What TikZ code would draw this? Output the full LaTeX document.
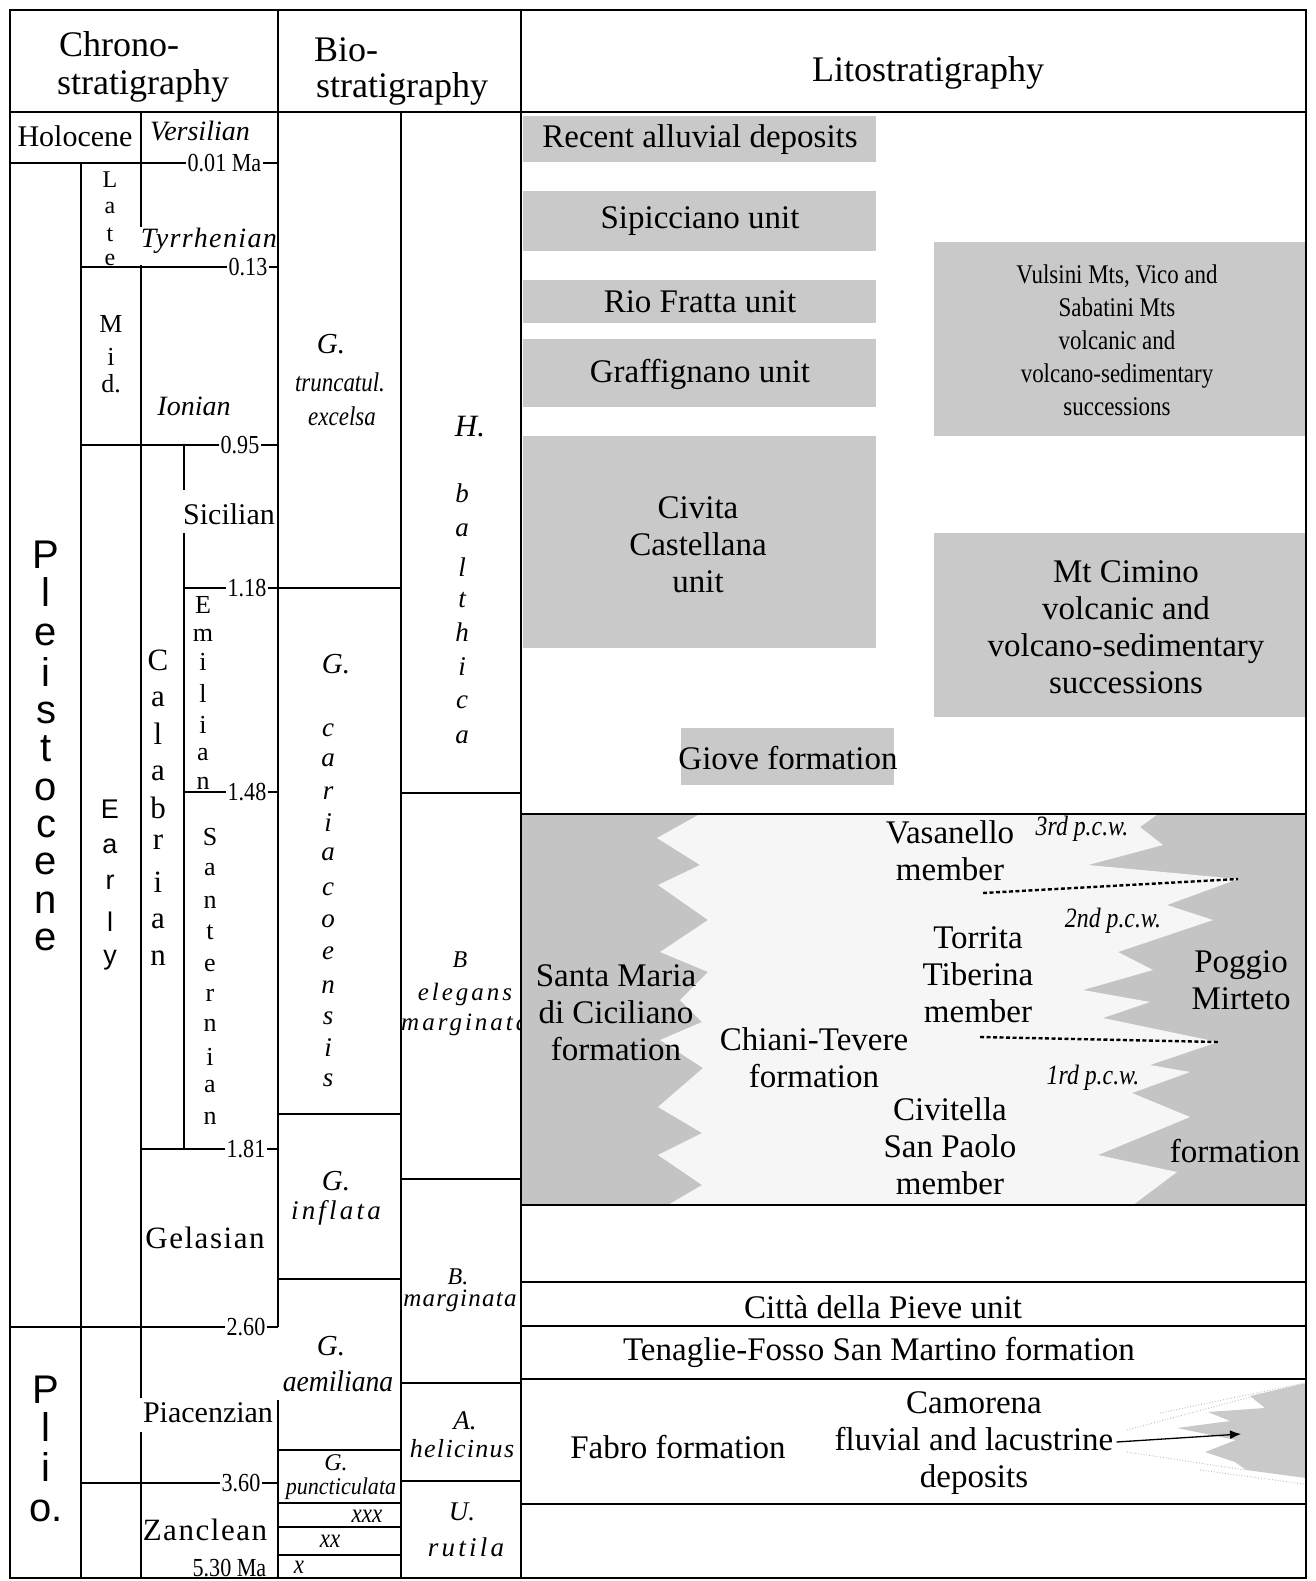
\documentclass[tikz,border=0pt]{standalone}
\usepackage{fontspec}
\setmainfont{Liberation Serif}
\newfontfamily\sansf{Liberation Sans}
\newfontfamily\condf[FakeStretch=0.85]{Liberation Serif}
\newfontfamily\condg[FakeStretch=0.92]{Liberation Serif}
\newfontfamily\spcf[LetterSpace=12]{Liberation Serif}
\newfontfamily\spcu[LetterSpace=5]{Liberation Serif}
\usetikzlibrary{arrows.meta}
\newcommand\FS[2]{\fontsize{#1}{#2}\selectfont}
\definecolor{boxgray}{RGB}{201,201,201}
\definecolor{zonegray}{RGB}{196,196,196}
\definecolor{zonelight}{RGB}{246,246,246}
\begin{document}
\begin{tikzpicture}[x=1pt,y=-1pt,
  ln/.style={line width=1.6pt},
  txt/.style={inner sep=0pt,align=center},
  hdr/.style={inner sep=0pt,anchor=base west,font=\FS{36}{40}},
  agel/.style={fill=white,inner xsep=1.5pt,inner ysep=1pt,anchor=east,font=\condf\FS{26}{26}},
  chr/.style={inner sep=0pt,font=\FS{30}{30}},
  chsp/.style={inner sep=0pt,font=\spcu\FS{31}{31}},
  chit/.style={inner sep=0pt,font=\itshape\FS{28}{28}},
  vlet/.style={inner sep=0pt,font=\FS{26}{26}},
  vcal/.style={inner sep=0pt,font=\FS{31}{31}},
  vsans/.style={inner sep=0pt,font=\sansf\FS{40}{40}},
  vearly/.style={inner sep=0pt,font=\sansf\FS{27}{27}},
  bioG/.style={inner sep=0pt,font=\itshape\FS{29}{29}},
  biol/.style={inner sep=0pt,font=\itshape\FS{27}{27}},
  biosp/.style={inner sep=0pt,font=\spcf\itshape\FS{25}{25}},
  biocd/.style={inner sep=0pt,font=\condf\itshape\FS{27}{27}},
  lit/.style={inner sep=0pt,align=center,font=\FS{33}{37}},
  litc/.style={inner sep=0pt,align=center,font=\condf\FS{27}{33}},
  pcw/.style={inner sep=0pt,font=\condf\itshape\FS{28}{28}}
]
\useasboundingbox (0,0) rectangle (1315,1581);
\fill[white] (0,0) rectangle (1315,1581);

% ---------------- litho grey boxes ----------------
\fill[boxgray] (523,116) rectangle (876,162);
\fill[boxgray] (523,191) rectangle (876,251);
\fill[boxgray] (523,280) rectangle (876,323);
\fill[boxgray] (523,339) rectangle (876,407);
\fill[boxgray] (523,436) rectangle (876,648);
\fill[boxgray] (934,242) rectangle (1305,436);
\fill[boxgray] (934,533) rectangle (1305,717);
\fill[boxgray] (681,728) rectangle (894,785);

% big interfingering zone
\fill[zonegray] (521,814) rectangle (1306,1205);
\fill[zonelight] (700,814) -- (657,838) -- (700,865) -- (658,885) -- (708,920) -- (660,952)
  -- (708,972) -- (680,1000) -- (702,1022) -- (660,1040) -- (703,1068) -- (658,1107)
  -- (702,1133) -- (658,1155) -- (702,1185) -- (668,1205) -- (1133,1205) -- (1177,1172)
  -- (1098,1155) -- (1190,1117) -- (1132,1093) -- (1190,1072) -- (1150,1065) -- (1218,1042)
  -- (1103,1018) -- (1150,1002) -- (1083,990) -- (1153,970) -- (1118,952) -- (1213,920)
  -- (1167,905) -- (1238,879) -- (1088,865) -- (1163,845) -- (1140,827) -- (1158,814) -- cycle;
\draw[line width=2.4pt,dash pattern=on 4pt off 2.5pt] (983,893) -- (1238,879);
\draw[line width=2.4pt,dash pattern=on 4pt off 2.5pt] (980,1037) -- (1218,1042);

% Camorena wedge
\draw[gray!60,line width=0.8pt,dotted] (1127,1430) -- (1250,1397);
\draw[gray!60,line width=0.8pt,dotted] (1160,1413) -- (1304,1383);
\draw[gray!60,line width=0.8pt,dotted] (1127,1452) -- (1245,1470);
\draw[gray!60,line width=0.8pt,dotted] (1200,1470) -- (1304,1484);
\fill[boxgray] (1306,1383) -- (1250,1396) -- (1265,1408) -- (1208,1412) -- (1230,1421) -- (1177,1428)
  -- (1236,1440) -- (1205,1452) -- (1235,1462) -- (1246,1470) -- (1306,1478) -- cycle;

% ---------------- headers ----------------
\node[hdr] (chA) at (59,57) {Chrono-};
\node[hdr] (chB) at (57,95) {stratigraphy};
\node[hdr] (bioA) at (314,62) {Bio-};
\node[hdr] (bioB) at (316,98) {stratigraphy};
\node[txt,font=\FS{36}{40}] (lito) at (928,73) {Litostratigraphy};

% ---------------- chronostratigraphy texts ----------------
\node[chr] (holo) at (75,136) {Holocene};
\node[chit] (vers) at (200,131) {Versilian};
\foreach \l/\yy [count=\k] in {L/180,a/208,t/235,e/260}
  \node[inner sep=0pt,font=\FS{24}{24}] (late\k) at (110,\yy) {\l};
\node[inner sep=0pt,font=\spcu\itshape\FS{28}{28}] (tyrr) at (209,241) {Tyrrhenian};
\foreach \l/\yy [count=\k] in {M/324,i/357,d./384}
  \node[vlet] (mid\k) at (111,\yy) {\l};
\node[chit] (ion) at (194,406) {Ionian};
\node[chr] (sic) at (229,514) {Sicilian};
\foreach \l/\yy [count=\k] in {E/605,m/635,i/662,l/693,i/725,a/755,n/783}
  \node[vlet] (emi\k) at (203,\yy) {\l};
\foreach \l/\yy [count=\k] in {S/837,a/870,n/902,t/932,e/965,r/995,n/1025,i/1057,a/1087,n/1118}
  \node[vlet] (san\k) at (210,\yy) {\l};
\foreach \l/\yy [count=\k] in {C/660,a/699,l/734,a/773,b/808,r/842,i/882,a/921,n/958}
  \node[vcal] (cal\k) at (158,\yy) {\l};
\foreach \l/\yy [count=\k] in {E/809,a/846,r/882,l/922,y/960}
  \node[vearly] (ear\k) at (110,\yy) {\l};
\foreach \l/\yy [count=\k] in {P/555,l/592,e/635,i/672,s/713,t/749,o/790,c/827,e/864,n/903,e/940}
  \node[vsans] (ple\k) at (46,\yy) {\l};
\foreach \l/\yy [count=\k] in {P/1390,l/1427,i/1467,o./1511}
  \node[vsans] (pli\k) at (46,\yy) {\l};
\node[chsp] (gel) at (205,1238) {Gelasian};
\node[chr] (pia) at (208,1413) {Piacenzian};
\node[chsp] (zan) at (205,1530) {Zanclean};

% ---------------- biostratigraphy texts ----------------
\node[bioG] (g1) at (331,344) {G.};
\node[biocd] (g1b) at (340,382) {truncatul.};
\node[biocd] (g1c) at (342,416) {excelsa};
\node[inner sep=0pt,font=\itshape\FS{31}{31}] (hh) at (470,427) {H.};
\foreach \l/\yy [count=\k] in {b/493,a/530,l/567,t/600,h/632,i/667,c/702,a/737}
  \node[biol] (bal\k) at (462,\yy) {\l};
\node[bioG] (g2) at (336,664) {G.};
\foreach \l/\yy [count=\k] in {c/730,a/760,r/793,i/823,a/854,c/889,o/921,e/953,n/987,s/1018,i/1048,s/1080}
  \node[biol] (car\k) at (328,\yy) {\l};
\node[bioG] (g3) at (336,1181) {G.};
\node[inner sep=0pt,font=\spcf\itshape\FS{27}{27}] (g3b) at (336,1213) {inflata};
\node[inner sep=0pt,font=\itshape\FS{24}{24}] (b1) at (460,960) {B};
\node[biosp] (b1b) at (465,994) {elegans};
\begin{scope}
  \clip (401,793) rectangle (521,1179);
  \node[biosp,anchor=west] (b1c) at (401,1025) {marginata};
\end{scope}
\node[inner sep=0pt,font=\itshape\FS{24}{24}] (b2) at (458,1277) {B.};
\node[inner sep=0pt,font=\spcu\itshape\FS{25}{25}] (b2b) at (460,1301) {marginata};
\node[bioG] (g4) at (331,1346) {G.};
\node[inner sep=0pt,font=\condg\itshape\FS{30}{30}] (g4b) at (338,1381) {aemiliana};
\node[inner sep=0pt,font=\itshape\FS{27}{27}] (a1) at (465,1421) {A.};
\node[inner sep=0pt,font=\spcu\itshape\FS{26}{26}] (a1b) at (462,1449) {helicinus};
\node[inner sep=0pt,font=\itshape\FS{24}{24}] (g5) at (336,1463) {G.};
\node[inner sep=0pt,font=\condg\itshape\FS{24}{24}] (g5b) at (341,1489) {puncticulata};
\node[inner sep=0pt,font=\itshape\FS{27}{27}] (u1) at (462,1512) {U.};
\node[inner sep=0pt,font=\spcf\itshape\FS{27}{27}] (u1b) at (466,1547) {rutila};
\node[biocd] (x3) at (367,1516) {xxx};
\node[biocd] (x2) at (330,1541) {xx};
\node[biocd] (x1) at (299,1567) {x};

% ---------------- lithostratigraphy texts ----------------
\node[lit] (rad) at (700,140) {Recent alluvial deposits};
\node[lit] (sip) at (700,221) {Sipicciano unit};
\node[lit] (rio) at (700,302) {Rio Fratta unit};
\node[lit] (gra) at (700,374) {Graffignano unit};
\node[lit] (civ) at (698,545) {Civita\\Castellana\\unit};
\node[litc] (vul) at (1117,340) {Vulsini Mts, Vico and\\Sabatini Mts\\volcanic and\\volcano-sedimentary\\successions};
\node[lit] (cim) at (1126,627) {Mt Cimino\\volcanic and\\volcano-sedimentary\\successions};
\node[lit] (gio) at (788,758) {Giove formation};
\node[lit] (smc) at (616,1013) {Santa Maria\\di Ciciliano\\formation};
\node[lit] (cht) at (814,1058) {Chiani-Tevere\\formation};
\node[lit] (vas) at (950,851) {Vasanello\\member};
\node[pcw] (p3) at (1082,829) {3rd p.c.w.};
\node[lit] (tor) at (978,975) {Torrita\\Tiberina\\member};
\node[pcw] (p2) at (1113,921) {2nd p.c.w.};
\node[lit] (pog) at (1241,980) {Poggio\\Mirteto};
\node[pcw] (p1) at (1093,1078) {1rd p.c.w.};
\node[lit] (cit) at (950,1146) {Civitella\\San Paolo\\member};
\node[lit] (pfo) at (1235,1151) {formation};
\node[lit] (cdp) at (883,1307) {Città della Pieve unit};
\node[lit] (ten) at (879,1352) {Tenaglie-Fosso San Martino formation};
\node[lit] (fab) at (678,1447) {Fabro formation};
\node[lit] (cam) at (974,1443) {Camorena\\fluvial and lacustrine\\deposits};
\coordinate (camtip) at (1241,1434);
\draw[line width=1.3pt,-{Latex[length=11pt,width=9pt]}] ([xshift=3pt,yshift=1pt]cam.east) -- (camtip);

% ---------------- lines ----------------
\draw[ln] (521,10) -- (521,1578);
\draw[ln] (278,10) -- (278,1327);
\draw[ln] (278,1400) -- (278,1578);
\draw[ln] (10,112) -- (1306,112);
\draw[ln] (401,112) -- (401,1578);
\draw[ln] (141,112) -- (141,227);
\draw[ln] (141,265) -- (141,1398);
\draw[ln] (141,1432) -- (141,1578);
\draw[ln] (81,163) -- (81,1578);
\draw[ln] (184,445) -- (184,490);
\draw[ln] (184,533) -- (184,1149);

\draw[ln] (10,163) -- (278,163);
\draw[ln] (81,267) -- (278,267);
\draw[ln] (81,445) -- (278,445);
\draw[ln] (184,588) -- (401,588);
\draw[ln] (184,792) -- (278,792);
\draw[ln] (401,793) -- (521,793);
\draw[ln] (141,1149) -- (278,1149);
\draw[ln] (278,1114) -- (401,1114);
\draw[ln] (401,1179) -- (521,1179);
\draw[ln] (278,1279) -- (401,1279);
\draw[ln] (10,1327) -- (278,1327);
\draw[ln] (401,1383) -- (521,1383);
\draw[ln] (278,1450) -- (401,1450);
\draw[ln] (81,1483) -- (278,1483);
\draw[ln] (401,1481) -- (521,1481);
\draw[ln] (278,1503) -- (401,1503);
\draw[ln] (278,1527) -- (401,1527);
\draw[ln] (278,1555) -- (401,1555);

\draw[ln] (521,814) -- (1306,814);
\draw[ln] (521,1205) -- (1306,1205);
\draw[ln] (521,1282) -- (1306,1282);
\draw[ln] (521,1326) -- (1306,1326);
\draw[ln] (521,1379) -- (1306,1379);
\draw[ln] (521,1504) -- (1306,1504);

\draw[line width=2pt] (10,10) rectangle (1306,1578);

% age labels
\node[agel] (a001) at (263,163) {0.01 Ma};
\node[agel] (a013) at (269,267) {0.13};
\node[agel] (a095) at (261,445) {0.95};
\node[agel] (a118) at (268,588) {1.18};
\node[agel] (a148) at (268,792) {1.48};
\node[agel] (a181) at (267,1149) {1.81};
\node[agel] (a260) at (267,1327) {2.60};
\node[agel] (a360) at (262,1483) {3.60};
\node[agel,fill=none] (a530) at (268,1568) {5.30 Ma};
\end{tikzpicture}
\end{document}
